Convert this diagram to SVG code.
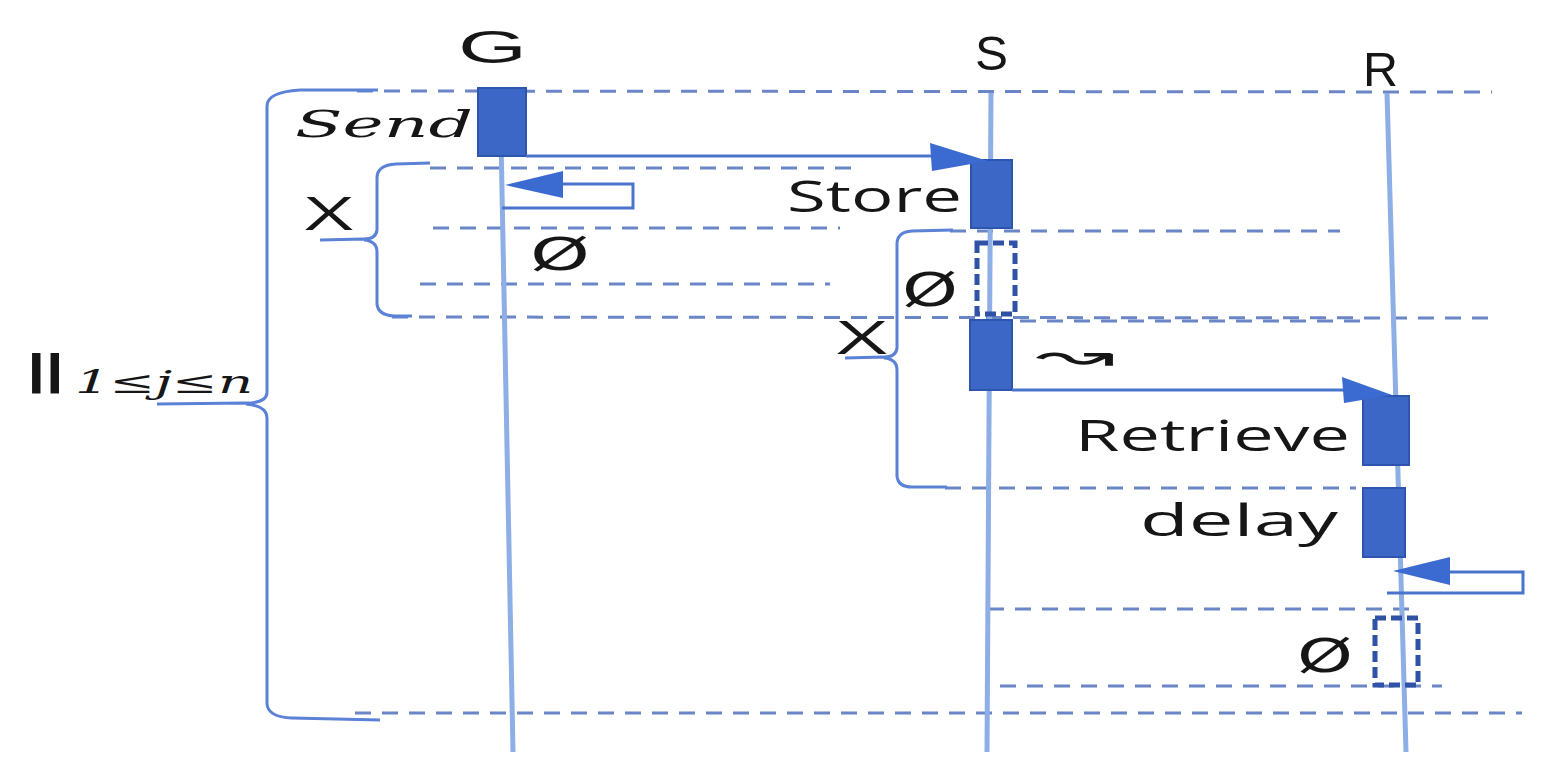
<svg xmlns="http://www.w3.org/2000/svg" width="1546" height="781" viewBox="0 0 1546 781">
<style>
.life{stroke:#8eaee6;stroke-width:5;fill:none}
.dash{stroke:#6b86c6;stroke-width:3;stroke-dasharray:16 11;fill:none}
.brace{stroke:#5b82d6;stroke-width:3;fill:none}
.act{fill:#3c67c6;stroke:#2d55ad;stroke-width:2}
.phantom{fill:none;stroke:#2f52a6;stroke-width:5;stroke-dasharray:11 5}
.msg{stroke:#4a74cc;stroke-width:3;fill:none}
.head{fill:#3b6bd0}
.lbl{font-family:"Open Sans","Liberation Sans",sans-serif;fill:#161616}
.head-t{font-family:"Liberation Sans",sans-serif;fill:#161616}
.math{font-family:"DejaVu Serif","Liberation Serif",serif;font-style:italic;fill:#161616}
.sym{font-family:"DejaVu Sans","Liberation Sans",sans-serif;fill:#161616}
</style>
<rect width="1546" height="781" fill="#ffffff"/>

<g id="frames">
<line class="dash" x1="357" y1="91" x2="1492" y2="92"/>
<line class="dash" x1="430" y1="168" x2="860" y2="168"/>
<line class="dash" x1="433" y1="228" x2="840" y2="228"/>
<line class="dash" x1="950" y1="231" x2="1340" y2="231"/>
<line class="dash" x1="420" y1="284" x2="830" y2="284"/>
<line class="dash" x1="392" y1="317" x2="1492" y2="318"/>
<line class="dash" x1="1020" y1="321" x2="1360" y2="321"/>
<line class="dash" x1="945" y1="488" x2="1356" y2="488"/>
<line class="dash" x1="988" y1="609" x2="1416" y2="609"/>
<line class="dash" x1="1000" y1="686" x2="1442" y2="686"/>
<line class="dash" x1="355" y1="713" x2="1522" y2="713"/>
</g>

<g id="braces">
<path class="brace" d="M378,90 L300,90 Q267,92 267,106 L267,393 Q266,403 246,403 L157,404 M246,404 Q267,406 267,418 L267,704 Q268,717 292,718 L380,720"/>
<path class="brace" d="M430,163 L396,164 Q377,165 377,178 L377,230 Q376,239 364,239 L320,240 M364,240 Q377,241 377,252 L377,304 Q378,315 394,316 L412,316"/>
<path class="brace" d="M953,230 L912,231 Q897,232 897,244 L897,348 Q896,357 884,357 L845,358 M884,358 Q897,359 897,370 L897,476 Q898,487 912,487 L947,487"/>
</g>

<g id="lifeline-G">
<line class="life" x1="500" y1="88" x2="513" y2="752"/>
<text class="head-t" x="458" y="63" font-size="46" textLength="69" lengthAdjust="spacingAndGlyphs">G</text>
</g>
<g id="lifeline-S">
<line class="life" x1="991" y1="93" x2="987" y2="752"/>
<text class="head-t" x="975" y="70" font-size="48" textLength="33" lengthAdjust="spacingAndGlyphs">S</text>
</g>
<g id="lifeline-R">
<line class="life" x1="1387" y1="93" x2="1406" y2="752"/>
<text class="head-t" x="1363" y="86" font-size="48" textLength="35" lengthAdjust="spacingAndGlyphs">R</text>
</g>

<g id="send">
<rect class="act" x="478" y="88" width="48" height="68"/>
<text class="math" x="295" y="137" font-size="38" textLength="178" lengthAdjust="spacingAndGlyphs">Send</text>
</g>
<g id="store">
<rect class="act" x="971" y="160" width="41" height="68"/>
<text class="lbl" x="787" y="212" font-size="44" textLength="175" lengthAdjust="spacingAndGlyphs">Store</text>
</g>
<g id="empty-S">
<rect class="phantom" x="977" y="243" width="38" height="71"/>
<text class="sym" x="902" y="306" font-size="46" textLength="56" lengthAdjust="spacingAndGlyphs">Ø</text>
</g>
<g id="forward">
<rect class="act" x="970" y="320" width="42" height="70"/>
<text class="sym" x="1035" y="370" font-size="42" textLength="80" lengthAdjust="spacingAndGlyphs">↝</text>
</g>
<g id="retrieve">
<rect class="act" x="1363" y="396" width="46" height="69"/>
<text class="lbl" x="1075" y="451" font-size="44" textLength="275" lengthAdjust="spacingAndGlyphs">Retrieve</text>
</g>
<g id="delay">
<rect class="act" x="1363" y="488" width="42" height="69"/>
<text class="lbl" x="1140" y="536" font-size="44" textLength="198" lengthAdjust="spacingAndGlyphs">delay</text>
</g>
<g id="empty-R">
<rect class="phantom" x="1375" y="618" width="43" height="67"/>
<text class="sym" x="1297" y="672" font-size="46" textLength="56" lengthAdjust="spacingAndGlyphs">Ø</text>
</g>
<g id="empty-G">
<text class="sym" x="530" y="270" font-size="44" textLength="60" lengthAdjust="spacingAndGlyphs">Ø</text>
</g>
<g id="labels">
<text class="lbl" x="305" y="230" font-size="46" textLength="48" lengthAdjust="spacingAndGlyphs">X</text>
<text class="lbl" x="837" y="354" font-size="46" textLength="50" lengthAdjust="spacingAndGlyphs">X</text>
<text class="head-t" x="27" y="384" font-size="42" font-weight="bold" textLength="37" lengthAdjust="spacingAndGlyphs" fill="#333">||</text>
<text class="math" x="75" y="393" font-size="31" textLength="178" lengthAdjust="spacingAndGlyphs">1≤j≤n</text>
</g>

<g id="connectors">
<line class="msg" x1="526" y1="156" x2="940" y2="156"/>
<polygon class="head" points="930,143 932,171 988,161"/>
<line class="msg" x1="1012" y1="390" x2="1345" y2="390"/>
<polygon class="head" points="1342,377 1344,403 1392,395"/>
<polyline class="msg" points="502,208 633,208 633,184 560,184"/>
<polygon class="head" points="563,171 563,198 505,185"/>
<polyline class="msg" points="1387,593 1523,593 1523,572 1448,572"/>
<polygon class="head" points="1450,557 1450,585 1393,571"/>
</g>
</svg>
